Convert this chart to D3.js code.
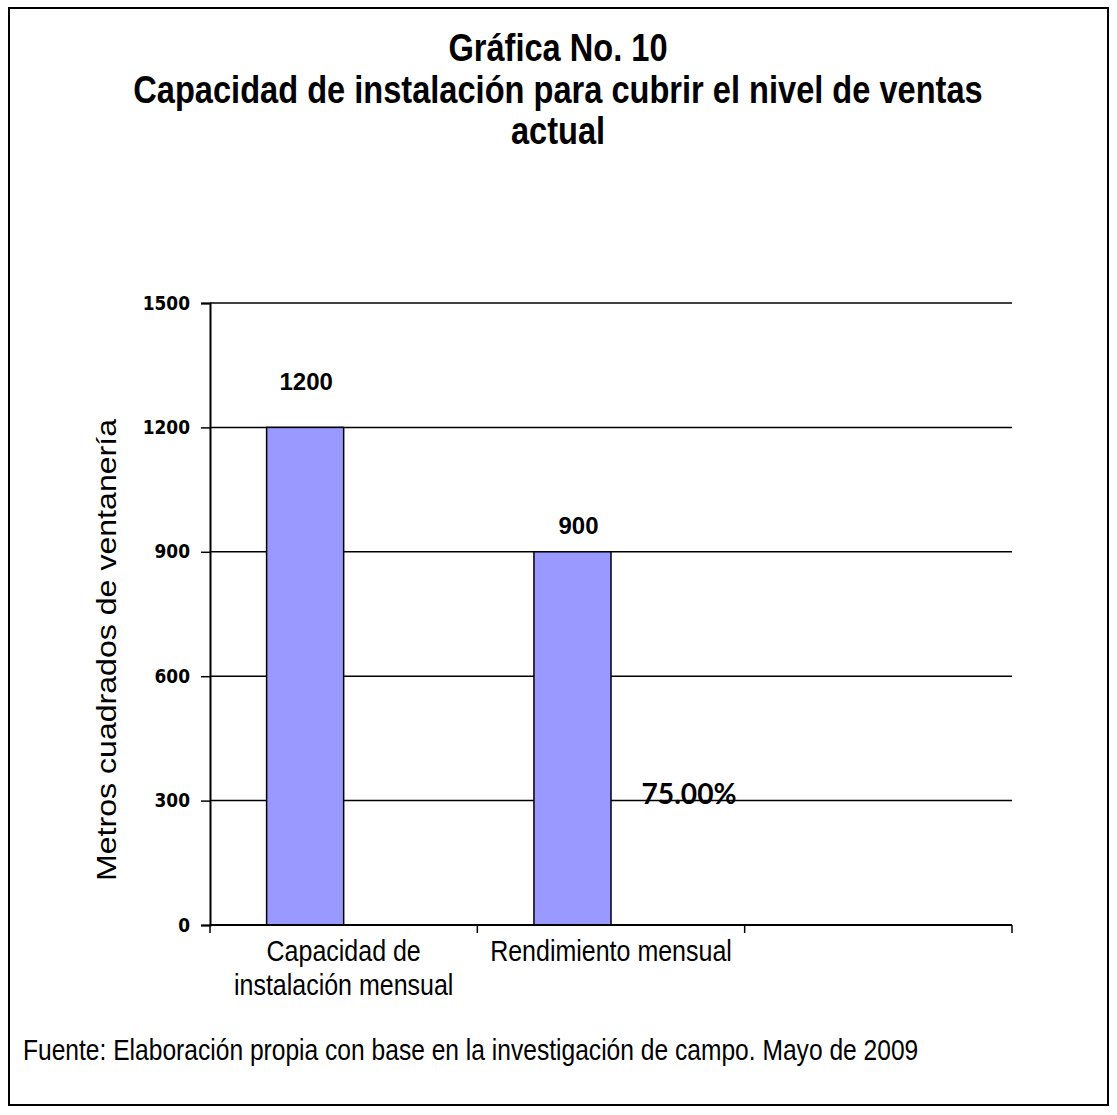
<!DOCTYPE html>
<html>
<head>
<meta charset="utf-8">
<script src="https://cdn.jsdelivr.net/npm/d3@7"></script>
<style>
  html, body { margin: 0; padding: 0; background: #fff; }
  svg { display: block; }
</style>
</head>
<body>
<svg id="chart" width="1117" height="1115"></svg>
<script>
// Chart content
const titleLines = ["Gráfica No. 10", "Capacidad de instalación para cubrir el nivel de ventas", "actual"];
const categories = ["cap", "rend", "vacío"];
const categoryLabels = [["Capacidad de", "instalación mensual"], ["Rendimiento mensual"], []];
const series = ["Metros cuadrados", "Porcentaje"];
const values = [1200, 900, null];
const yTicks = [0, 300, 600, 900, 1200, 1500];
const yTitle = "Metros cuadrados de ventanería";
const footnote = "Fuente: Elaboración propia con base en la investigación de campo. Mayo de 2009";

// Layout
const plot = { left: 210, right: 1012, top: 303, bottom: 925 };
const barFill = "#9999ff";
const SANS = "'Liberation Sans', Arial, sans-serif";
const TALL = 1.18; // glyphs drawn taller than wide

const svg = d3.select("#chart");

// Stretch each text vertically about its own baseline.
function tallText(sel, size, k = TALL) {
  sel.attr("font-size", size).each(function () {
    const t = d3.select(this);
    const tx = +t.attr("x") || 0, ty = +t.attr("y") || 0;
    t.attr("x", 0).attr("y", 0)
      .attr("transform", `translate(${tx},${ty}) scale(1,${k})`);
  });
  return sel;
}

// Outer frame
svg.append("rect")
  .attr("x", 9).attr("y", 8)
  .attr("width", 1099).attr("height", 1097)
  .attr("fill", "#fff").attr("stroke", "#000").attr("stroke-width", 2);

// Title
const title = svg.append("g").selectAll("text").data(titleLines).join("text")
  .attr("x", 558)
  .attr("y", (d, i) => 61 + i * 41.5)
  .attr("text-anchor", "middle")
  .attr("font-family", SANS)
  .attr("font-weight", "bold")
  .attr("fill", "#000")
  .text(d => d);
tallText(title, 32.6);

// Scales
const x = d3.scaleBand().domain(categories).range([plot.left, plot.right]).paddingInner(0).paddingOuter(0);
const gapRatio = 0.4235;
const inner = d3.scaleBand().domain(series)
  .range([x.bandwidth() * gapRatio / 2, x.bandwidth() * (1 - gapRatio / 2)]);
const y = d3.scaleLinear().domain([0, 1500]).range([plot.bottom, plot.top]);

// Gridlines
svg.append("g").selectAll("line").data(yTicks.filter(t => t > 0)).join("line")
  .attr("x1", plot.left).attr("x2", plot.right)
  .attr("y1", d => y(d)).attr("y2", d => y(d))
  .attr("stroke", "#000").attr("stroke-width", 1.5);

// Bars
const barData = categories.map((c, i) => ({ c, v: values[i] })).filter(d => d.v != null);
svg.append("g").selectAll("rect").data(barData).join("rect")
  .attr("x", d => x(d.c) + inner(series[0]))
  .attr("y", d => y(d.v))
  .attr("width", inner.bandwidth())
  .attr("height", d => y(0) - y(d.v))
  .attr("fill", barFill)
  .attr("stroke", "#000").attr("stroke-width", 1.5);

// Y axis
const yAxis = svg.append("g")
  .attr("transform", `translate(${plot.left},0)`)
  .call(d3.axisLeft(y).tickValues(yTicks).tickSize(9).tickPadding(11).tickFormat(d3.format("d")));
yAxis.select(".domain").attr("stroke", "#000").attr("stroke-width", 2);
yAxis.selectAll(".tick line").attr("stroke", "#000").attr("stroke-width", 1.5);
yAxis.selectAll(".tick text")
  .attr("font-family", "'DejaVu Sans', Verdana, sans-serif")
  .attr("font-weight", "bold")
  .attr("font-size", 17)
  .attr("fill", "#000")
  .attr("dy", "0.36em")
  .attr("transform", "scale(1,1.15)")
  .attr("y", function () { return 0; })
  .each(function () {
    // keep the scaled label centred on its tick
    d3.select(this).attr("dy", (0.36 / 1.15) + "em");
  });

// X axis: ticks at category boundaries
const xBounds = categories.map(c => x(c)).concat([plot.right]);
const xAxis = svg.append("g");
xAxis.append("line")
  .attr("x1", plot.left).attr("x2", plot.right)
  .attr("y1", y(0)).attr("y2", y(0))
  .attr("stroke", "#000").attr("stroke-width", 2);
xAxis.selectAll("line.tk").data(xBounds).join("line").attr("class", "tk")
  .attr("x1", d => d).attr("x2", d => d)
  .attr("y1", y(0)).attr("y2", y(0) + 8)
  .attr("stroke", "#000").attr("stroke-width", 1.5);

// Category labels
const catG = svg.append("g");
categories.forEach((c, i) => {
  categoryLabels[i].forEach((line, j) => {
    const t = catG.append("text")
      .attr("x", x(c) + x.bandwidth() / 2)
      .attr("y", y(0) + 36 + j * 34)
      .attr("text-anchor", "middle")
      .attr("font-family", SANS)
      .attr("fill", "#000")
      .text(line);
    tallText(t, 25);
  });
});

// Value labels
const labelShift = { cap: { dx: 1, dy: -37 }, rend: { dx: 6, dy: -18 } };
svg.append("g").selectAll("text").data(barData).join("text")
  .attr("x", d => x(d.c) + inner(series[0]) + inner.bandwidth() / 2 + labelShift[d.c].dx)
  .attr("y", d => y(d.v) + labelShift[d.c].dy)
  .attr("text-anchor", "middle")
  .attr("font-family", SANS)
  .attr("font-weight", "bold")
  .attr("font-size", 24)
  .attr("fill", "#000")
  .text(d => d.v);

// Ratio label: monthly output as a share of installation capacity
const ratio = values[1] / values[0];
svg.append("text")
  .attr("x", x(categories[1]) + inner(series[1]) + inner.bandwidth() + 1)
  .attr("y", y(300) + 3)
  .attr("text-anchor", "middle")
  .attr("font-family", "Lato, 'Open Sans', sans-serif")
  .attr("font-weight", "bold")
  .attr("font-size", 28)
  .attr("textLength", 95)
  .attr("lengthAdjust", "spacingAndGlyphs")
  .attr("fill", "#000")
  .text(d3.format(".2%")(ratio));

// Y axis title
svg.append("text")
  .attr("transform", "translate(116,650) rotate(-90)")
  .attr("text-anchor", "middle")
  .attr("font-family", SANS)
  .attr("font-size", 27)
  .attr("textLength", 462)
  .attr("lengthAdjust", "spacingAndGlyphs")
  .attr("fill", "#000")
  .text(yTitle);

// Source note
const note = svg.append("text")
  .attr("x", 23).attr("y", 1060)
  .attr("font-family", SANS)
  .attr("fill", "#000")
  .text(footnote);
tallText(note, 24.6);
</script>
</body>
</html>
